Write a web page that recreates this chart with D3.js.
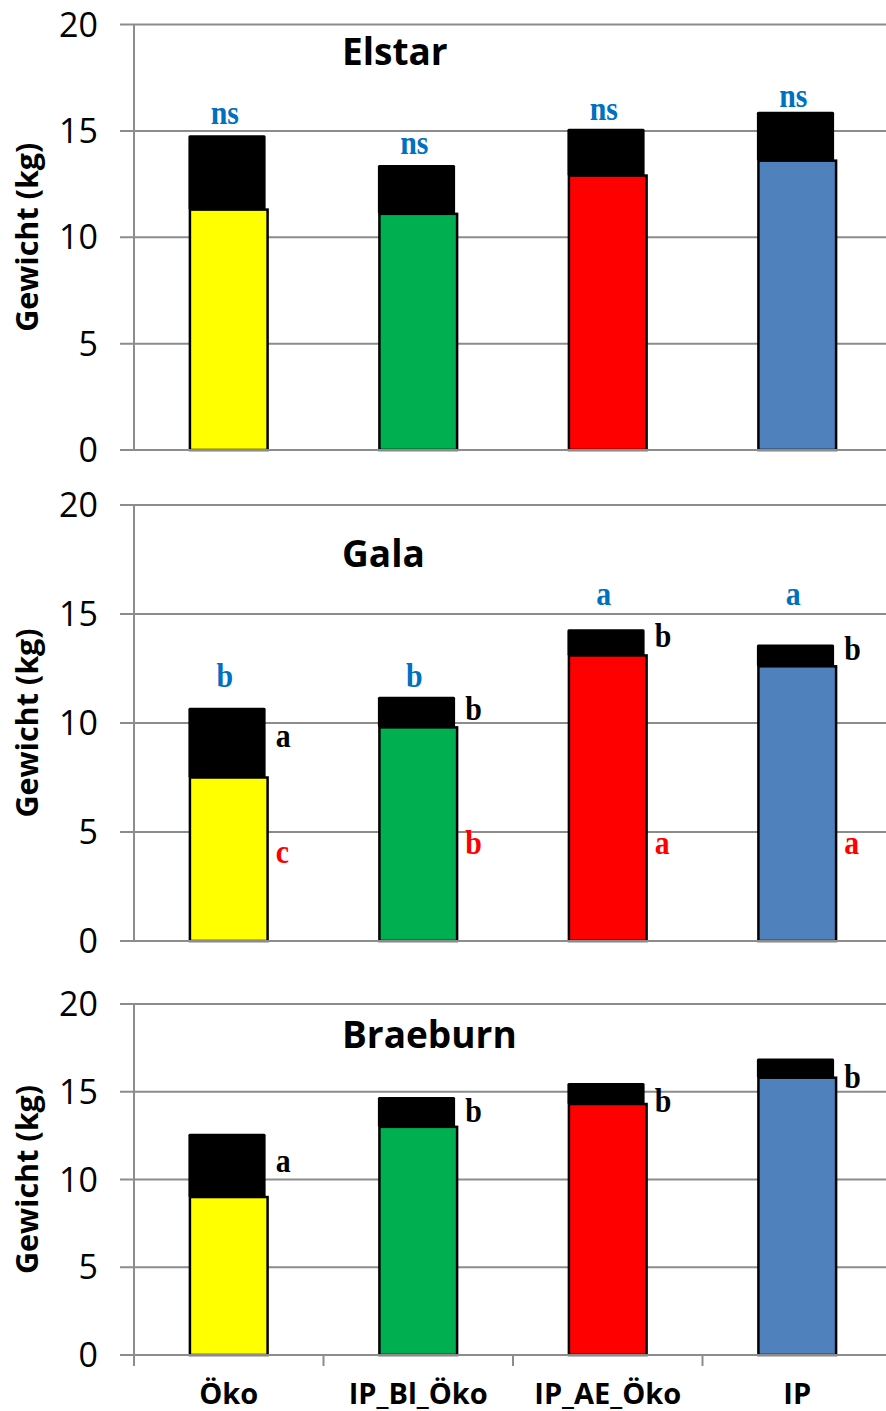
<!DOCTYPE html>
<html>
<head>
<meta charset="utf-8">
<script src="https://cdn.jsdelivr.net/npm/d3@7"></script>
<style>
  html, body { margin: 0; padding: 0; background: #fff; }
  svg { display: block; }
</style>
</head>
<body>
<svg id="chart" width="886" height="1411"></svg>
<script>
// Treatments (x categories)
const categories = ["Öko", "IP_Bl_Öko", "IP_AE_Öko", "IP"];
const varieties = ["Elstar", "Gala", "Braeburn"];
const yTicks = [0, 5, 10, 15, 20];

// Lower (coloured) segment and upper (black) segment, kg per tree
const lowerElstar = [11.3, 11.1, 12.9, 13.6];
const upperElstar = [3.5, 2.3, 2.2, 2.3];
const lowerGala = [7.5, 9.8, 13.1, 12.6];
const upperGala = [3.2, 1.4, 1.2, 1.0];
const lowerBraeburn = [9.0, 13.0, 14.3, 15.8];
const upperBraeburn = [3.6, 1.7, 1.2, 1.1];

// Significance letters and the kg level at which each sits
const totalLettersElstar = ["ns", "ns", "ns", "ns"];
const totalLetterAtElstar = [15.3, 13.9, 15.5, 16.1];
const totalLettersGala = ["b", "b", "a", "a"];
const totalLetterAtGala = [11.65, 11.65, 15.4, 15.4];
const upperLettersGala = ["a", "b", "b", "b"];
const upperLetterAtGala = [8.9, 10.15, 13.5, 12.9];
const lowerLettersGala = ["c", "b", "a", "a"];
const lowerLetterAtGala = [3.6, 4.0, 4.0, 4.0];
const upperLettersBraeburn = ["a", "b", "b", "b"];
const upperLetterAtBraeburn = [10.45, 13.3, 13.85, 15.2];

const barColors = ["#FFFF00", "#00B050", "#FF0000", "#4F81BD"];
const gridColor = "#8C8C8C";
const blue = "#0070C0", red = "#FF0000";

const panels = [
  { name: varieties[0], lower: lowerElstar, upper: upperElstar,
    top: 24.5, bottom: 450, titleY: 65,
    total: { t: totalLettersElstar, at: totalLetterAtElstar } },
  { name: varieties[1], lower: lowerGala, upper: upperGala,
    top: 505, bottom: 941, titleY: 567,
    total: { t: totalLettersGala, at: totalLetterAtGala },
    up: { t: upperLettersGala, at: upperLetterAtGala },
    low: { t: lowerLettersGala, at: lowerLetterAtGala } },
  { name: varieties[2], lower: lowerBraeburn, upper: upperBraeburn,
    top: 1004, bottom: 1355, titleY: 1048, xAxis: true,
    up: { t: upperLettersBraeburn, at: upperLetterAtBraeburn } }
];

const svg = d3.select("#chart");
const axisX = 134, plotRight = 892;

const x = d3.scaleBand()
  .domain(categories)
  .range([axisX, plotRight])
  .paddingInner(0.59)
  .paddingOuter(0.295);

const sans = "'Open Sans', 'DejaVu Sans', sans-serif";
const serif = "'Liberation Serif', 'Times New Roman', serif";

function letter(g, txt, px, py, color, anchor) {
  g.append("text")
    .attr("transform", `translate(${px},${py}) scale(1.03,1.18)`)
    .attr("text-anchor", anchor)
    .attr("font-family", serif)
    .attr("font-weight", "bold")
    .attr("font-size", 29)
    .attr("fill", color)
    .text(txt);
}

panels.forEach(p => {
  const g = svg.append("g");
  const y = d3.scaleLinear().domain([0, 20]).range([p.bottom, p.top]);

  // horizontal gridlines with tick stubs to the left of the axis
  g.selectAll("line.grid").data(yTicks).join("line")
    .attr("x1", 120).attr("x2", 886)
    .attr("y1", d => y(d)).attr("y2", d => y(d))
    .attr("stroke", gridColor).attr("stroke-width", 2);

  // vertical axis
  g.append("line")
    .attr("x1", axisX).attr("x2", axisX)
    .attr("y1", y(20)).attr("y2", p.xAxis ? y(0) + 11 : y(0))
    .attr("stroke", gridColor).attr("stroke-width", 2);

  // tick labels
  g.selectAll("text.tick").data(yTicks).join("text")
    .attr("x", 98).attr("y", d => y(d)).attr("dy", "0.36em")
    .attr("text-anchor", "end")
    .attr("font-family", sans).attr("font-size", 34).attr("fill", "#000")
    .text(d => d);

  // y-axis title
  g.append("text")
    .attr("transform", `translate(27,${(p.top + p.bottom) / 2}) rotate(-90)`)
    .attr("dy", "0.35em")
    .attr("text-anchor", "middle")
    .attr("font-family", sans).attr("font-weight", "bold").attr("font-size", 30.5)
    .text("Gewicht (kg)");

  // panel title
  g.append("text")
    .attr("x", 342).attr("y", p.titleY)
    .attr("font-family", sans).attr("font-weight", "bold").attr("font-size", 37)
    .text(p.name);

  const rows = categories.map((c, i) => ({
    c, i, lo: p.lower[i], tot: p.lower[i] + p.upper[i]
  }));

  // upper (black) segments
  g.selectAll("rect.upper").data(rows).join("rect")
    .attr("x", d => x(d.c) - 1.5)
    .attr("width", x.bandwidth() - 0.5)
    .attr("y", d => y(d.tot))
    .attr("height", d => y(d.lo) - y(d.tot))
    .attr("rx", 1.5)
    .attr("fill", "#000");

  // lower (coloured) segments
  g.selectAll("rect.lower").data(rows).join("rect")
    .attr("x", d => x(d.c))
    .attr("width", x.bandwidth())
    .attr("y", d => y(d.lo))
    .attr("height", d => y(0) - y(d.lo))
    .attr("fill", d => barColors[d.i])
    .attr("stroke", "#000").attr("stroke-width", 2.5);

  // baseline on top of the bars
  g.append("line")
    .attr("x1", 120).attr("x2", 886)
    .attr("y1", y(0)).attr("y2", y(0))
    .attr("stroke", gridColor).attr("stroke-width", 2);

  if (p.xAxis) {
    const bounds = categories.slice(1).map(c => x(c) - x.step() * x.paddingInner() / 2);
    g.selectAll("line.xt").data(bounds).join("line")
      .attr("x1", d => d).attr("x2", d => d)
      .attr("y1", y(0)).attr("y2", y(0) + 11)
      .attr("stroke", gridColor).attr("stroke-width", 2);
    g.selectAll("text.xl").data(categories).join("text")
      .attr("x", d => x(d) + x.bandwidth() / 2)
      .attr("y", 1404)
      .attr("text-anchor", "middle")
      .attr("font-family", sans).attr("font-weight", "bold").attr("font-size", 29)
      .text(d => d);
  }

  const cx = c => x(c) + x.bandwidth() / 2;
  if (p.total) categories.forEach((c, i) =>
    letter(g, p.total.t[i], cx(c) - 4, y(p.total.at[i]), blue, "middle"));
  if (p.up) categories.forEach((c, i) =>
    letter(g, p.up.t[i], cx(c) + 47, y(p.up.at[i]), "#000", "start"));
  if (p.low) categories.forEach((c, i) =>
    letter(g, p.low.t[i], cx(c) + 47, y(p.low.at[i]), red, "start"));
});
</script>
</body>
</html>
